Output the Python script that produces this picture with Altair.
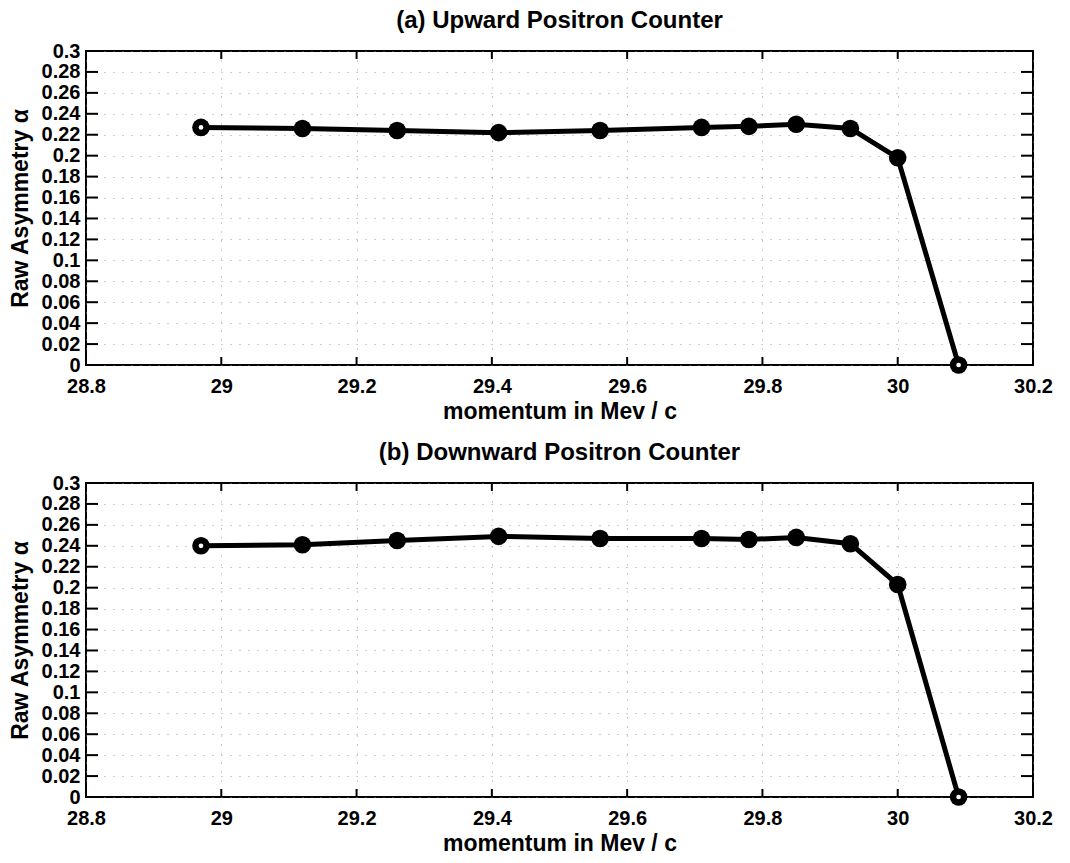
import altair as alt
import pandas as pd

# momentum values (MeV/c) of the measured points
momentum = [28.97, 29.12, 29.26, 29.41, 29.56, 29.71, 29.78, 29.85, 29.93, 30.00, 30.09]
# raw asymmetry, (a) upward counter
upward = [0.227, 0.226, 0.224, 0.222, 0.224, 0.227, 0.228, 0.230, 0.226, 0.198, 0.0]
# raw asymmetry, (b) downward counter
downward = [0.240, 0.241, 0.245, 0.249, 0.247, 0.247, 0.246, 0.248, 0.242, 0.203, 0.0]

x_ticks = [28.8, 29.0, 29.2, 29.4, 29.6, 29.8, 30.0, 30.2]
y_ticks = [0, 0.02, 0.04, 0.06, 0.08, 0.1, 0.12, 0.14, 0.16, 0.18, 0.2,
           0.22, 0.24, 0.26, 0.28, 0.3]
titles = ["(a) Upward Positron Counter", "(b) Downward Positron Counter"]
x_title = "momentum in Mev / c"
y_title = "Raw Asymmetry α"

W, H = 947, 314
FONT = "Liberation Sans"


def panel(values, title):
    df = pd.DataFrame({"p": momentum, "a": values, "idx": list(range(len(momentum)))})
    xs = alt.Scale(domain=[28.8, 30.2], nice=False, zero=False)
    ys = alt.Scale(domain=[0, 0.3], nice=False, zero=False)
    xax = alt.Axis(values=x_ticks, format=".1~f", title=x_title, grid=True,
                   labelFlush=False, labelOverlap=False, labelPadding=11,
                   titlePadding=4)
    yax = alt.Axis(values=y_ticks, format=".2~f", title=y_title, grid=True,
                   labelFlush=False, labelOverlap=False, labelPadding=6,
                   titlePadding=9)
    base = alt.Chart(df).encode(
        x=alt.X("p:Q", scale=xs, axis=xax),
        y=alt.Y("a:Q", scale=ys, axis=yax),
    )
    line = base.mark_line(color="black", strokeWidth=5)
    pts = base.mark_circle(size=310, color="black", opacity=1)
    holes = base.mark_circle(size=22, color="white", opacity=1).transform_filter(
        "datum.idx == 0 || datum.idx == 10")

    ydf = pd.DataFrame({"v": y_ticks})
    xdf = pd.DataFrame({"v": x_ticks})
    yl = alt.Chart(ydf).mark_rule(color="black", strokeWidth=2).encode(
        y=alt.Y("v:Q", scale=ys, axis=yax), x=alt.value(0), x2=alt.value(12))
    yr = alt.Chart(ydf).mark_rule(color="black", strokeWidth=2).encode(
        y=alt.Y("v:Q", scale=ys, axis=yax), x=alt.value(W - 12), x2=alt.value(W))
    xb = alt.Chart(xdf).mark_rule(color="black", strokeWidth=2).encode(
        x=alt.X("v:Q", scale=xs, axis=xax), y=alt.value(H), y2=alt.value(H - 8))
    xt = alt.Chart(xdf).mark_rule(color="black", strokeWidth=2).encode(
        x=alt.X("v:Q", scale=xs, axis=xax), y=alt.value(0), y2=alt.value(8))

    return alt.layer(yl, yr, xb, xt, line, pts, holes).properties(
        width=W, height=H,
        title=alt.TitleParams(title, font=FONT, fontSize=24, fontWeight="bold",
                              color="black", offset=8, anchor="middle"),
    )


chart = alt.vconcat(panel(upward, titles[0]), panel(downward, titles[1]), spacing=16).properties(
    padding={"left": 8, "top": 8, "right": 5, "bottom": 5},
    background="white",
).configure_view(
    stroke="black", strokeWidth=2
).configure_axis(
    domain=False, ticks=False,
    labelFont=FONT, labelFontSize=20, labelFontWeight="bold", labelColor="black",
    titleFont=FONT, titleFontSize=23, titleFontWeight="bold", titleColor="black",
    gridColor="#888", gridDash=[1, 8], gridWidth=1, gridOpacity=0.8,
)

chart.save("out.html", embed_options={"renderer": "svg", "actions": False})
